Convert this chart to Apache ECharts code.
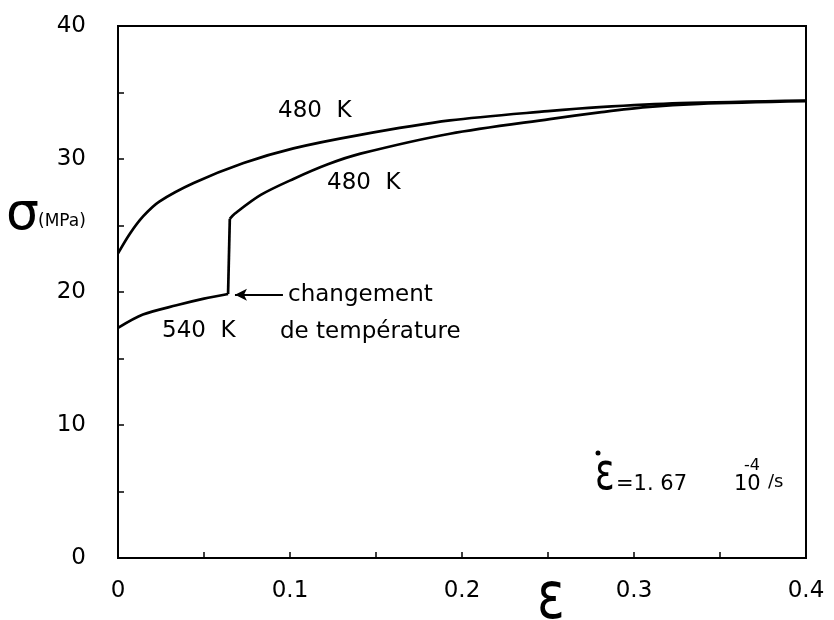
<!DOCTYPE html>
<html>
<head>
<meta charset="utf-8">
<script src="https://cdn.jsdelivr.net/npm/echarts@6/dist/echarts.min.js"></script>
<style>
html,body{margin:0;padding:0;background:#fff;}
#c{width:834px;height:620px;}
</style>
</head>
<body>
<div id="c"></div>
<script>
// ---- data ----
var upperX = [0, 0.007, 0.0147, 0.024, 0.044, 0.073, 0.102, 0.14, 0.193, 0.25, 0.28, 0.327, 0.4];
var upperY = [22.9, 24.4, 25.7, 26.8, 28.2, 29.7, 30.8, 31.8, 32.9, 33.6, 33.9, 34.2, 34.4];

var low540X = [0, 0.0145, 0.034, 0.05, 0.064];
var low540Y = [17.3, 18.3, 19.0, 19.5, 19.85];

var jumpX = [0.064, 0.065];
var jumpY = [19.85, 25.5];

var low480X = [0.065, 0.068, 0.083, 0.102, 0.122, 0.141, 0.193, 0.251, 0.28, 0.307, 0.338, 0.4];
var low480Y = [25.5, 25.9, 27.3, 28.5, 29.6, 30.4, 31.9, 33.0, 33.5, 33.9, 34.15, 34.35];

var arrowFrom = [0.0959, 19.8];
var arrowTo = [0.068, 19.8];

function zip(xs, ys){ return xs.map(function(x,i){ return [x, ys[i]]; }); }

var FONT = 'DejaVu Sans';
var chart = echarts.init(document.getElementById('c'), null, {renderer:'canvas'});

var lineStyle = {color:'#000', width:2.7};

function txt(x, y, s, size, extra){
  var o = {type:'text', x:x, y:y, style:{text:s, fontSize:size, fontFamily:FONT, fill:'#000', align:'left', verticalAlign:'middle'}};
  if (extra) for (var k in extra) o[k] = extra[k];
  return o;
}

chart.setOption({
  backgroundColor:'#fff',
  animation:false,
  grid:{left:118, right:28, top:26, bottom:62, show:true, borderColor:'#000', borderWidth:2, backgroundColor:'transparent'},
  xAxis:{
    type:'value', min:0, max:0.4, interval:0.1,
    axisLine:{show:true, lineStyle:{color:'#000', width:2}},
    axisTick:{show:true, inside:true, length:6, lineStyle:{color:'#000', width:1.5}},
    minorTick:{show:true, splitNumber:2, length:6, lineStyle:{color:'#000', width:1.5}},
    splitLine:{show:false},
    axisLabel:{color:'#000', fontFamily:FONT, fontSize:23, margin:22,
      formatter:function(v){ return v===0 ? '0' : v.toFixed(1); }}
  },
  yAxis:{
    type:'value', min:0, max:40, interval:10,
    axisLine:{show:true, lineStyle:{color:'#000', width:2}},
    axisTick:{show:true, inside:true, length:6, lineStyle:{color:'#000', width:1.5}},
    minorTick:{show:true, splitNumber:2, length:6, lineStyle:{color:'#000', width:1.5}},
    splitLine:{show:false},
    axisLabel:{color:'#000', fontFamily:FONT, fontSize:23, margin:32, padding:[0,0,12,0],
      formatter:function(v){ return String(v); }}
  },
  series:[
    {type:'line', name:'480 K', data:zip(upperX, upperY), smooth:0.3, showSymbol:false, lineStyle:lineStyle},
    {type:'line', name:'540 K', data:zip(low540X, low540Y), smooth:0.3, showSymbol:false, lineStyle:lineStyle},
    {type:'line', name:'jump', data:zip(jumpX, jumpY), smooth:false, showSymbol:false, lineStyle:lineStyle},
    {type:'line', name:'480 K after', data:zip(low480X, low480Y), smooth:0.3, showSymbol:false, lineStyle:lineStyle,
      markLine:{silent:true, symbol:['none','arrow'], symbolSize:[9,12], label:{show:false},
        lineStyle:{color:'#000', width:2, type:'solid'},
        data:[[{coord:arrowFrom},{coord:arrowTo}]]}}
  ],
  graphic:[
    txt(278, 111, '480  K', 23),
    txt(327, 183, '480  K', 23),
    txt(162, 331, '540  K', 23),
    txt(288, 295, 'changement', 23),
    txt(280, 332, 'de température', 23),
    // y axis name
    txt(6, 215, 'σ', 52),
    txt(38, 222, '(MPa)', 17),
    // x axis name
    txt(537, 601, 'ε', 66, {scaleX:0.78}),
    // strain rate annotation
    txt(595, 475, 'ε', 52, {scaleX:0.7}),
    {type:'circle', shape:{cx:598, cy:453, r:2.5}, style:{fill:'#000'}},
    txt(616, 485, '=1. 67', 21),
    txt(734, 485, '10', 21),
    txt(744, 466, '-4', 16),
    txt(768, 482, '/s', 18)
  ]
});
</script>
</body>
</html>
